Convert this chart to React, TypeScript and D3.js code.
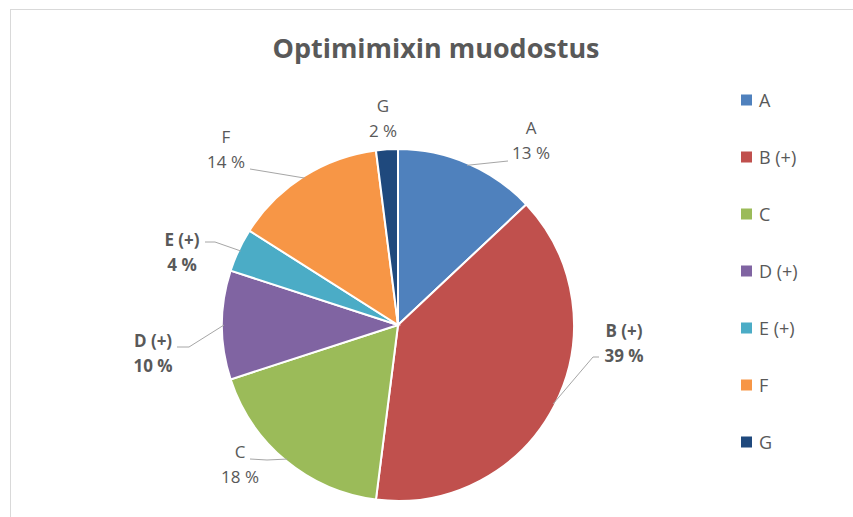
import React from "react";
import * as d3 from "d3";

// Series
const categories = ["A", "B (+)", "C", "D (+)", "E (+)", "F", "G"];
const shares = [13, 39, 18, 10, 4, 14, 2];
const boldLabel = [false, true, false, true, true, false, false];
const sliceColors = ["#4F81BD", "#C0504D", "#9BBB59", "#8064A2", "#4BACC6", "#F79646", "#1F497D"];
const title = "Optimimixin muodostus";

// Data label placement (label centre x, first baseline y, leader elbow points)
const labelLayout: { x: number; y: number; elbow: [number, number][] }[] = [
  { x: 531, y: 134, elbow: [[508, 161]] },
  { x: 624, y: 337, elbow: [[599, 357], [593, 357]] },
  { x: 240, y: 458, elbow: [[250, 459], [267, 460]] },
  { x: 153, y: 347, elbow: [[177, 347], [189, 347]] },
  { x: 182, y: 246, elbow: [[205, 242], [215, 242]] },
  { x: 226, y: 143, elbow: [[250, 169]] },
  { x: 383, y: 112, elbow: [] },
];

const W = 853;
const H = 517;
const cx = 398;
const cy = 325;
const R = 176;
const FONT = "'Open Sans', 'Noto Sans', sans-serif";
const TEXT = "#595959";

export default function App() {
  const pie = d3
    .pie<number>()
    .sort(null)
    .value((d) => d);
  const arcs = pie(shares);
  const arc = d3.arc<d3.PieArcDatum<number>>().innerRadius(0).outerRadius(R);
  const edge = d3.arc<d3.PieArcDatum<number>>().innerRadius(R - 2).outerRadius(R - 2);
  const line = d3.line();

  const legendY = d3.scalePoint<string>().domain(categories).range([100, 442]);

  return (
    <svg
      width={W}
      height={H}
      style={{ position: "absolute", left: 0, top: 0, background: "#fff" }}
      fontFamily={FONT}
    >
      <rect x={0} y={0} width={W} height={H} fill="#fff" />
      <line x1={10} y1={9.5} x2={W} y2={9.5} stroke="#d9d9d9" />
      <line x1={10.5} y1={9} x2={10.5} y2={H} stroke="#d9d9d9" />

      <text
        x={436}
        y={58}
        textAnchor="middle"
        fontSize={27}
        fontWeight={700}
        fill={TEXT}
        textLength={327}
        lengthAdjust="spacingAndGlyphs"
      >
        {title}
      </text>

      <g transform={`translate(${cx},${cy})`}>
        {arcs.map((a, i) => (
          <path key={i} d={arc(a) ?? ""} fill={sliceColors[i]} stroke="#fff" strokeWidth={2} />
        ))}
      </g>

      {arcs.map((a, i) => {
        const lay = labelLayout[i];
        const [ex, ey] = edge.centroid(a);
        const pts: [number, number][] = [...lay.elbow, [cx + ex, cy + ey]];
        return (
          <g key={i}>
            {lay.elbow.length > 0 && (
              <path d={line(pts) ?? ""} fill="none" stroke="#a6a6a6" strokeWidth={1} />
            )}
            <text
              x={lay.x}
              y={lay.y}
              textAnchor="middle"
              fontSize={17}
              fontWeight={boldLabel[i] ? 700 : 400}
              fill={TEXT}
            >
              <tspan x={lay.x}>{categories[i]}</tspan>
              <tspan x={lay.x} dy={25}>{`${shares[i]} %`}</tspan>
            </text>
          </g>
        );
      })}

      {categories.map((c, i) => {
        const y = legendY(c) ?? 0;
        return (
          <g key={c}>
            <rect x={741} y={y - 5.5} width={11} height={11} fill={sliceColors[i]} />
            <text x={759} y={y + 6.5} fontSize={18} fill={TEXT}>
              {c}
            </text>
          </g>
        );
      })}
    </svg>
  );
}
